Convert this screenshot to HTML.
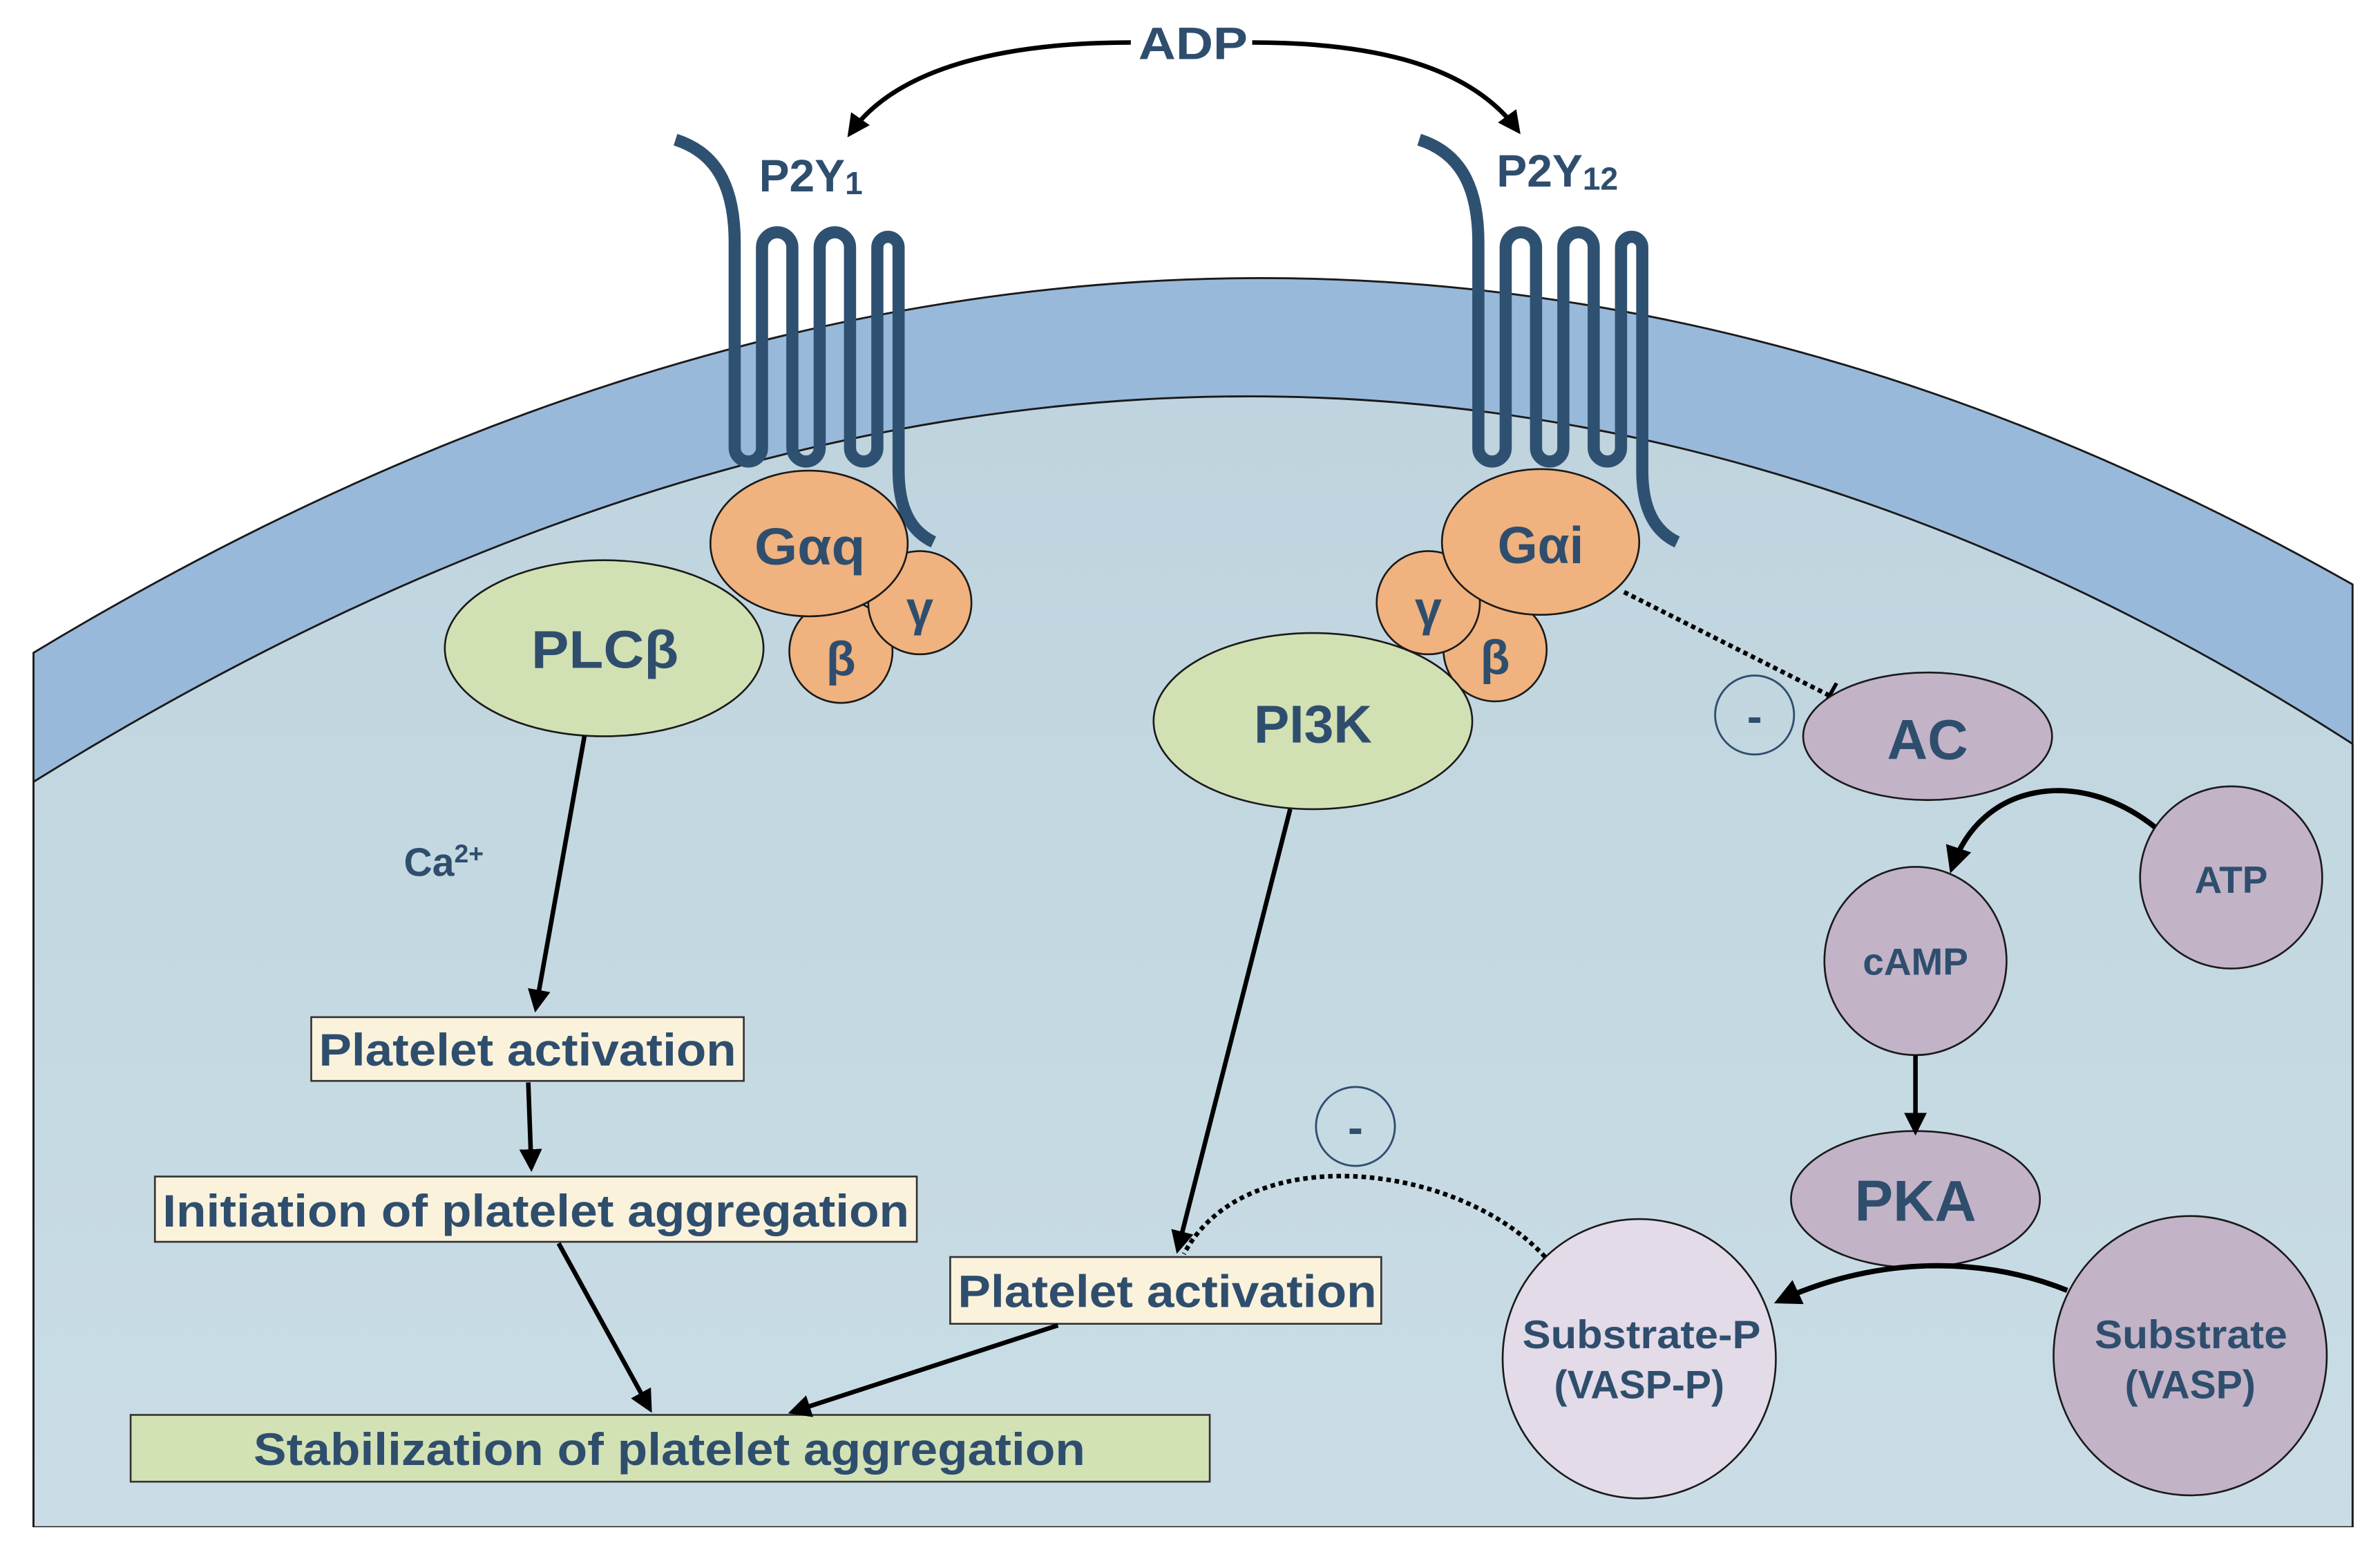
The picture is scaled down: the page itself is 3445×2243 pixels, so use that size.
<!DOCTYPE html>
<html><head><meta charset="utf-8"><style>
html,body{margin:0;padding:0;background:#fff}
svg{display:block}
text{font-family:"Liberation Sans",Arial,sans-serif;font-weight:bold;fill:#2f4e6e}
</style></head><body>
<svg width="3445" height="2243" viewBox="0 0 1568 1021" xmlns="http://www.w3.org/2000/svg">
<defs>
<linearGradient id="cyto" x1="0" y1="0" x2="0" y2="1">
<stop offset="0" stop-color="#bfd4de"/><stop offset="1" stop-color="#cadde6"/>
</linearGradient>
<marker id="ah" viewBox="0 0 10 10" refX="8" refY="5" markerWidth="5" markerHeight="5" orient="auto-start-reverse">
<path d="M0,0 L10,5 L0,10 Z" fill="#000"/></marker>
</defs>
<rect width="1568" height="1021" fill="#fff"/>
<path d="M22,1006 L22,430 Q800,-40 1550,385 L1550,1006 Z" fill="#99b9da" stroke="#1a1a1a" stroke-width="1.3"/>
<path d="M22,1006 L22,515 Q820,20 1550,490 L1550,1006 Z" fill="url(#cyto)" stroke="#1a1a1a" stroke-width="1.3"/>
<rect x="20" y="1006" width="1535" height="15" fill="#fff"/>

<path d="M745,28 C660,28 590,45 560,88" fill="none" stroke="#000" stroke-width="3" marker-end="url(#ah)"/>
<path d="M825,28 C910,28 970,45 1000,86" fill="none" stroke="#000" stroke-width="3" marker-end="url(#ah)"/>
<text x="750" y="39" font-size="30" textLength="72" lengthAdjust="spacingAndGlyphs">ADP</text>

<g id="r1" fill="none" stroke="#2f5171" stroke-width="8" stroke-linecap="butt">
<path d="M445,92 C470,100 484,120 484,160 L484,295 a9,9 0 0 0 18,0 L502,163 a10,10 0 0 1 20,0 L522,295 a9,9 0 0 0 18,0 L540,163 a10,10 0 0 1 20,0 L560,295 a9,9 0 0 0 18,0 L578,163 a7,7 0 0 1 14,0 L592,310 C592,335 600,350 615,357"/>
</g>
<use href="#r1" transform="translate(490,0)"/>
<text x="500" y="126" font-size="30">P2Y<tspan font-size="21" dy="2">1</tspan></text>
<text x="986" y="123" font-size="30">P2Y<tspan font-size="21" dy="2">12</tspan></text>

<g stroke="#1a1a1a" stroke-width="1.2">
<ellipse cx="398" cy="427" rx="105" ry="58" fill="#d2e1b4"/>
<circle cx="554" cy="429" r="34" fill="#f0b27e"/>
<circle cx="606" cy="397" r="34" fill="#f0b27e"/>
<ellipse cx="533" cy="358" rx="65" ry="48" fill="#f0b27e"/>
</g>
<text x="350" y="440" font-size="35" textLength="97" lengthAdjust="spacingAndGlyphs">PLCβ</text>
<text x="497" y="372" font-size="34" textLength="73" lengthAdjust="spacingAndGlyphs">Gαq</text>
<text x="606" y="412" font-size="32" text-anchor="middle">γ</text>
<text x="554" y="445" font-size="32" text-anchor="middle">β</text>

<g stroke="#1a1a1a" stroke-width="1.2">
<circle cx="985" cy="428" r="34" fill="#f0b27e"/>
<circle cx="941" cy="397" r="34" fill="#f0b27e"/>
<ellipse cx="1015" cy="357" rx="65" ry="48" fill="#f0b27e"/>
<ellipse cx="865" cy="475" rx="105" ry="58" fill="#d2e1b4"/>
</g>
<text x="1015" y="371" font-size="34" text-anchor="middle">Gαi</text>
<text x="941" y="412" font-size="32" text-anchor="middle">γ</text>
<text x="985" y="444" font-size="32" text-anchor="middle">β</text>
<text x="865" y="489" font-size="35" text-anchor="middle">PI3K</text>

<path d="M1070,390 L1205,458" stroke="#000" stroke-width="3" stroke-dasharray="3,2.5" fill="none"/>
<path d="M1201,466 L1210,450" stroke="#000" stroke-width="2.5"/>
<circle cx="1156" cy="471" r="26" fill="none" stroke="#2f4e6e" stroke-width="1.3"/>
<text x="1156" y="482" font-size="30" text-anchor="middle">-</text>

<g stroke="#1a1a1a" stroke-width="1.2" fill="#c2b3c7">
<ellipse cx="1270" cy="485" rx="82" ry="42"/>
<circle cx="1470" cy="578" r="60"/>
<ellipse cx="1262" cy="633" rx="60" ry="62"/>
<ellipse cx="1262" cy="790" rx="82" ry="45"/>
<ellipse cx="1443" cy="893" rx="90" ry="92"/>
<ellipse cx="1080" cy="895" rx="90" ry="92" fill="#e3dbe7"/>
</g>
<text x="1270" y="500" font-size="37" text-anchor="middle">AC</text>
<text x="1470" y="588" font-size="25" text-anchor="middle">ATP</text>
<text x="1262" y="642" font-size="25" text-anchor="middle">cAMP</text>
<text x="1262" y="804" font-size="38" text-anchor="middle">PKA</text>
<text x="1380" y="888" font-size="26" textLength="127" lengthAdjust="spacingAndGlyphs">Substrate</text>
<text x="1443" y="921" font-size="26" text-anchor="middle">(VASP)</text>
<text x="1003" y="888" font-size="26" textLength="157" lengthAdjust="spacingAndGlyphs">Substrate-P</text>
<text x="1080" y="921" font-size="26" text-anchor="middle">(VASP-P)</text>

<path d="M1420,545 C1370,505 1305,515 1286,572" fill="none" stroke="#000" stroke-width="3.5" marker-end="url(#ah)"/>
<path d="M1262,695 L1262,745" fill="none" stroke="#000" stroke-width="3" marker-end="url(#ah)"/>
<path d="M1362,850 C1300,825 1230,830 1172,857" fill="none" stroke="#000" stroke-width="3.5" marker-end="url(#ah)"/>

<path d="M1018,828 C960,765 820,750 780,826" fill="none" stroke="#000" stroke-width="3" stroke-dasharray="3,2.5"/>
<circle cx="893" cy="742" r="26" fill="none" stroke="#2f4e6e" stroke-width="1.3"/>
<text x="893" y="753" font-size="30" text-anchor="middle">-</text>

<g stroke="#333" stroke-width="1.2">
<rect x="205" y="670" width="285" height="42" fill="#fbf2dc"/>
<rect x="102" y="775" width="502" height="43" fill="#fbf2dc"/>
<rect x="626" y="828" width="284" height="44" fill="#fbf2dc"/>
<rect x="86" y="932" width="711" height="44" fill="#d3e2b5"/>
</g>
<text x="210" y="702" font-size="30" textLength="275" lengthAdjust="spacingAndGlyphs">Platelet activation</text>
<text x="107" y="808" font-size="30" textLength="492" lengthAdjust="spacingAndGlyphs">Initiation of platelet aggregation</text>
<text x="631" y="861" font-size="30" textLength="276" lengthAdjust="spacingAndGlyphs">Platelet activation</text>
<text x="167" y="965" font-size="30" textLength="548" lengthAdjust="spacingAndGlyphs">Stabilization of platelet aggregation</text>
<text x="266" y="577" font-size="26">Ca<tspan font-size="17" dy="-9">2+</tspan></text>

<g fill="none" stroke="#000" stroke-width="3" marker-end="url(#ah)">
<path d="M385,485 L353,664"/>
<path d="M348,713 L350,769"/>
<path d="M368,819 L428,928"/>
<path d="M697,873 L522,930"/>
<path d="M850,533 L776,823"/>
</g>
</svg>
</body></html>
